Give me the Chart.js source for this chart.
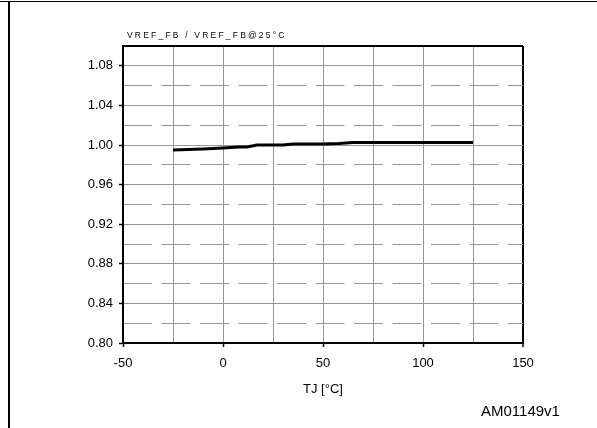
<!DOCTYPE html>
<html>
<head>
<meta charset="utf-8">
<script src="https://cdn.jsdelivr.net/npm/chart.js@4/dist/chart.umd.min.js"></script>
<style>
    body { margin: 0; background: #fff; }
    #wrap { position: relative; width: 597px; height: 428px; overflow: hidden; font-family: "Liberation Sans", Arial, sans-serif; }
    #chart { position: absolute; left: 0; top: 0; }
    .frame-top { position: absolute; left: 0; top: 1px; width: 597px; height: 1px; background: #000; }
    .frame-left { position: absolute; left: 8px; top: 1px; width: 2px; height: 427px; background: #000; }
    #ylabel { position: absolute; left: 127px; top: 30px; font-size: 8.5px; letter-spacing: 2.2px; color: #000; white-space: nowrap; }
    #code { position: absolute; left: 481px; top: 402px; font-size: 15px; color: #000; white-space: nowrap; }
</style>
</head>
<body>
<div id="wrap">
    <canvas id="chart" width="597" height="428"></canvas>
    <div class="frame-top"></div>
    <div class="frame-left"></div>
    <div id="ylabel">VREF_FB / VREF_FB@25°C</div>
    <div id="code">AM01149v1</div>
</div>
<script>
const temps = [-25, -10, 0, 8, 12, 17, 30, 35, 50, 58, 65, 125];
const ratio = [0.995, 0.996, 0.997, 0.998, 0.998, 1.000, 1.000, 1.001, 1.001, 1.0015, 1.0025, 1.0025];

const xTicks = [-50, -25, 0, 25, 50, 75, 100, 125, 150];
const yTicks = [0.80, 0.84, 0.88, 0.92, 0.96, 1.00, 1.04, 1.08, 1.10];
const yMinor = [0.82, 0.86, 0.90, 0.94, 0.98, 1.02, 1.06];

const gridGray = '#969696';
const font = { family: '"Liberation Sans", Arial, sans-serif', size: 13 };

new Chart(document.getElementById('chart').getContext('2d'), {
    type: 'line',
    data: {
        datasets: [{
            data: temps.map((t, i) => ({ x: t, y: ratio[i] })),
            borderColor: '#000',
            borderWidth: 3,
            pointRadius: 0,
            tension: 0,
            fill: false
        }]
    },
    options: {
        responsive: false,
        animation: false,
        layout: { padding: { left: 0, top: 46, right: 74, bottom: 0 } },
        plugins: { legend: { display: false }, tooltip: { enabled: false } },
        scales: {
            x: {
                type: 'linear',
                min: -50,
                max: 150,
                afterBuildTicks: s => { s.ticks = xTicks.map(v => ({ value: v })); },
                afterFit: s => { s.height = 85; },
                ticks: {
                    color: '#000',
                    font: font,
                    padding: 9,
                    maxRotation: 0,
                    autoSkip: false,
                    callback: v => (v % 50 === 0 ? String(v) : '')
                },
                grid: {
                    color: c => (c.tick && c.tick.value === 150 ? '#000' : gridGray),
                    lineWidth: c => (c.tick && c.tick.value === 150 ? 2 : 1),
                    tickLength: 4,
                    tickColor: c => (c.tick && c.tick.value % 50 === 0 ? '#000' : 'rgba(0,0,0,0)'),
                    tickWidth: 1.5
                },
                border: { color: '#000', width: 2 },
                title: {
                    display: true,
                    text: 'TJ [°C]',
                    color: '#000',
                    font: font,
                    padding: { top: 0, bottom: 31 }
                }
            },
            y: {
                type: 'linear',
                min: 0.80,
                max: 1.10,
                afterBuildTicks: s => { s.ticks = yTicks.map(v => ({ value: v })); },
                afterFit: s => { s.width = 123; },
                ticks: {
                    color: '#000',
                    font: font,
                    padding: 6,
                    autoSkip: false,
                    callback: v => (v > 1.09 ? '' : v.toFixed(2))
                },
                grid: {
                    color: c => (c.tick && c.tick.value > 1.09 ? '#000' : gridGray),
                    lineWidth: c => (c.tick && c.tick.value > 1.09 ? 2 : 1),
                    tickLength: 4,
                    tickColor: c => (c.tick && c.tick.value > 1.09 ? 'rgba(0,0,0,0)' : '#000'),
                    tickWidth: 1.5
                },
                border: { color: '#000', width: 2 }
            },
            yMinor: {
                type: 'linear',
                position: 'left',
                min: 0.80,
                max: 1.10,
                afterBuildTicks: s => { s.ticks = yMinor.map(v => ({ value: v })); },
                afterFit: s => { s.width = 0; },
                ticks: { display: false },
                grid: { color: gridGray, lineWidth: 1, drawTicks: false },
                border: { display: false, dash: [29, 9.5] }
            }
        }
    }
});
</script>
</body>
</html>
